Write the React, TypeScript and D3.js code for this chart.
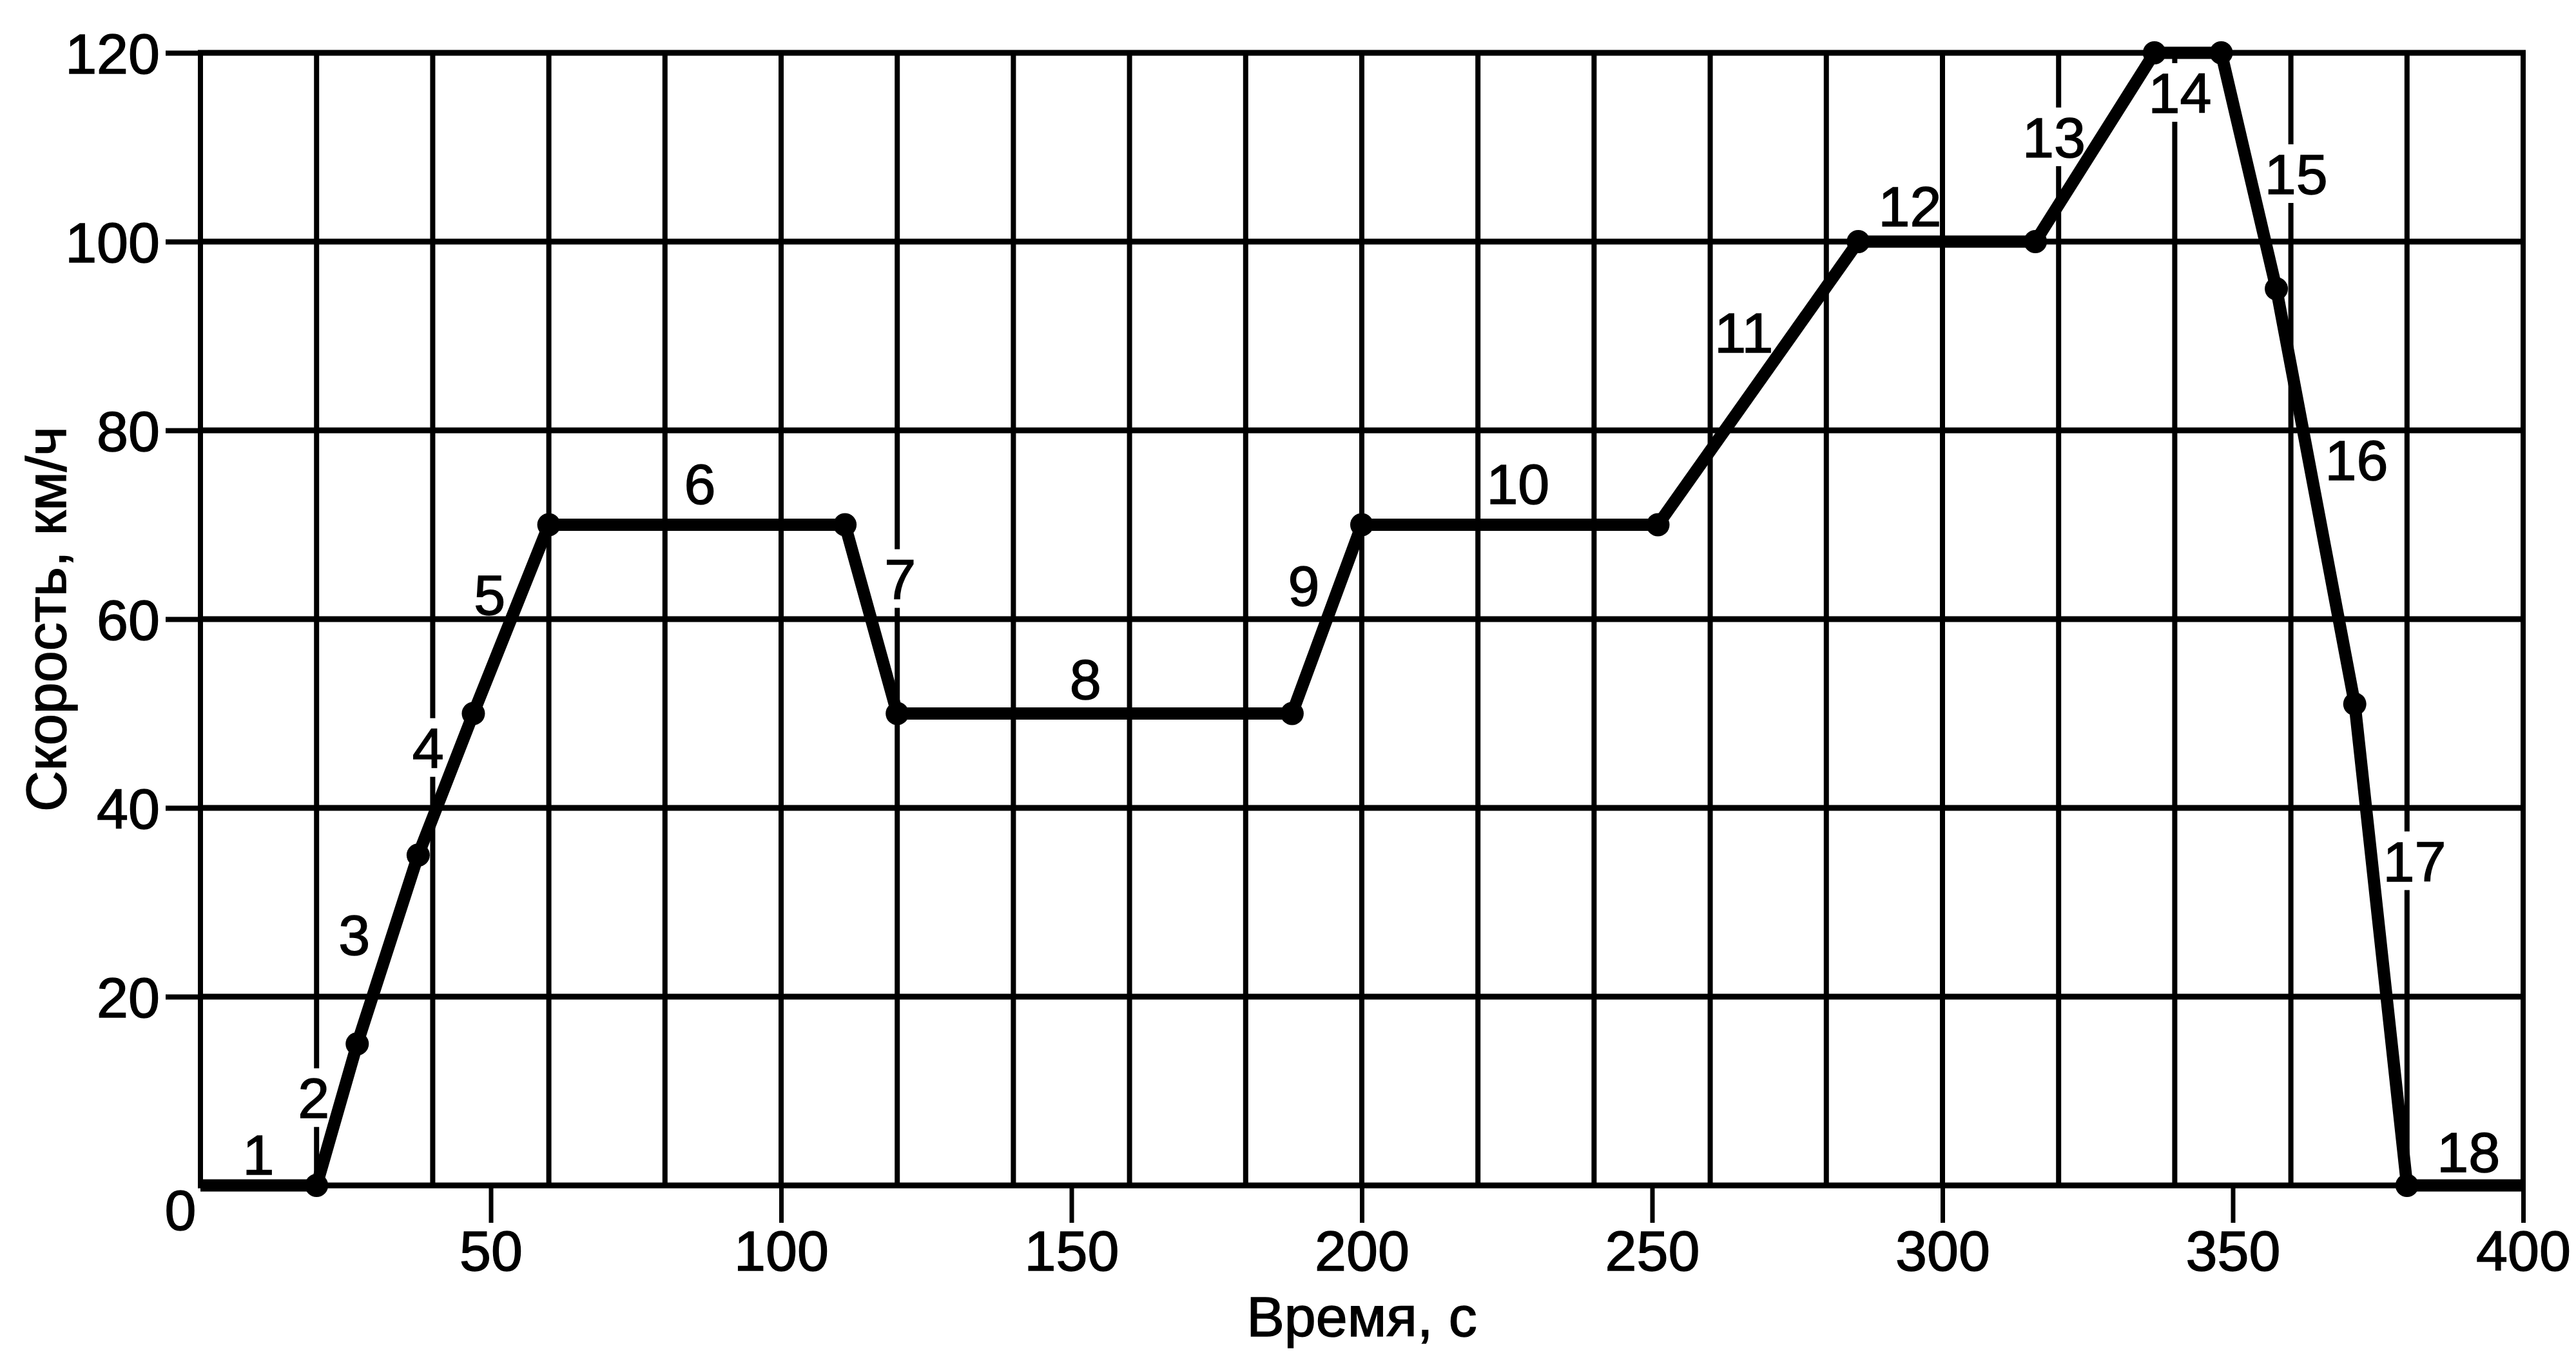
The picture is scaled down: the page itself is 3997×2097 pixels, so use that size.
import { useEffect, useRef } from 'react';
import * as d3 from 'd3';

// Speed profile: break points of the driving cycle
const timeS = [0, 20, 27, 37.5, 47, 60, 111, 120, 188, 200, 251, 285.5, 316, 336.5, 348, 357.5, 371, 380, 400];
const speedKmh = [0, 0, 15, 35, 50, 70, 70, 50, 50, 70, 70, 100, 100, 120, 120, 95, 51, 0, 0];

// Segment numbers and where they sit (in data units)
const segmentNames = ['1', '2', '3', '4', '5', '6', '7', '8', '9', '10', '11', '12', '13', '14', '15', '16', '17', '18'];
const labelTime = [10, 19.5, 26.5, 39.2, 49.8, 86, 120.5, 152.4, 190, 226.9, 265.8, 294.4, 319.2, 340.9, 360.9, 371.3, 381.3, 390.6];
const labelSpeed = [3.3, 9.3, 26.6, 46.4, 62.6, 74.4, 64.3, 53.7, 63.6, 74.4, 90.4, 103.8, 111.1, 115.8, 107.2, 76.9, 34.4, 3.6];

const xTicks = [50, 100, 150, 200, 250, 300, 350, 400];
const yTicks = [20, 40, 60, 80, 100, 120];

const xTitle = 'Время, с';
const yTitle = 'Скорость, км/ч';

export default function App() {
  const svgRef = useRef<SVGSVGElement>(null);

  useEffect(() => {
    if (!svgRef.current) return;
    document.body.style.margin = '0';

    const width = 3997;
    const height = 2097;
    const fs = 88;
    const font = '"Liberation Sans", Arial, sans-serif';

    const svg = d3.select(svgRef.current).attr('width', width).attr('height', height);
    svg.selectAll('*').remove();

    const x = d3.scaleLinear().domain([0, 400]).range([311, 3915]);
    const y = d3.scaleLinear().domain([0, 120]).range([1840, 82]);

    svg.append('rect').attr('width', width).attr('height', height).attr('fill', '#fff');

    // vertical grid every 20 s
    svg.append('g')
      .selectAll('line')
      .data(d3.range(0, 401, 20))
      .join('line')
      .attr('x1', d => x(d))
      .attr('x2', d => x(d))
      .attr('y1', y(120) - 4)
      .attr('y2', y(0) + 4)
      .attr('stroke', '#000')
      .attr('stroke-width', 8);

    // white boxes behind the segment numbers break the vertical grid
    svg.append('g')
      .selectAll('rect')
      .data(segmentNames)
      .join('rect')
      .attr('x', (d, i) => x(labelTime[i]) - (d.length * 0.5 * fs) / 2)
      .attr('y', (d, i) => y(labelSpeed[i]) - 0.358 * fs - 14)
      .attr('width', d => d.length * 0.5 * fs)
      .attr('height', 0.716 * fs + 28)
      .attr('fill', '#fff');

    // horizontal grid every 20 km/h
    svg.append('g')
      .selectAll('line')
      .data(d3.range(0, 121, 20))
      .join('line')
      .attr('x1', x(0) - 4)
      .attr('x2', x(400) + 4)
      .attr('y1', d => y(d))
      .attr('y2', d => y(d))
      .attr('stroke', '#000')
      .attr('stroke-width', 9);

    // axes (ticks and labels only; the grid draws the frame)
    const xAxis = svg.append('g')
      .attr('transform', `translate(0,${y(0)})`)
      .call(d3.axisBottom(x).tickValues(xTicks).tickSize(58).tickPadding(12).tickSizeOuter(0));
    xAxis.select('.domain').remove();
    xAxis.selectAll('line').attr('stroke', '#000').attr('stroke-width', 7);
    xAxis.selectAll('text')
      .attr('font-family', font)
      .attr('font-size', fs)
      .attr('fill', '#000')
      .attr('stroke', '#000')
      .attr('stroke-width', 1.5);

    const yAxis = svg.append('g')
      .attr('transform', `translate(${x(0)},0)`)
      .call(d3.axisLeft(y).tickValues(yTicks).tickSize(54).tickPadding(9).tickSizeOuter(0));
    yAxis.select('.domain').remove();
    yAxis.selectAll('line').attr('stroke', '#000').attr('stroke-width', 8);
    yAxis.selectAll('text')
      .attr('font-family', font)
      .attr('font-size', fs)
      .attr('dy', '0.358em')
      .attr('fill', '#000')
      .attr('stroke', '#000')
      .attr('stroke-width', 1.5);

    // shared origin label
    svg.append('text')
      .attr('x', 280)
      .attr('y', 1909)
      .attr('text-anchor', 'middle')
      .attr('font-family', font)
      .attr('font-size', fs)
      .attr('stroke', '#000')
      .attr('stroke-width', 1.5)
      .text('0');

    // speed profile
    const line = d3.line<number>()
      .x((d, i) => x(timeS[i]))
      .y(d => y(d));

    svg.append('path')
      .datum(speedKmh)
      .attr('d', line)
      .attr('fill', 'none')
      .attr('stroke', '#000')
      .attr('stroke-width', 19)
      .attr('stroke-linejoin', 'round');

    svg.append('g')
      .selectAll('circle')
      .data(speedKmh.slice(1, -1))
      .join('circle')
      .attr('cx', (d, i) => x(timeS[i + 1]))
      .attr('cy', d => y(d))
      .attr('r', 18)
      .attr('fill', '#000');

    // segment numbers
    svg.append('g')
      .selectAll('text')
      .data(segmentNames)
      .join('text')
      .attr('x', (d, i) => x(labelTime[i]))
      .attr('y', (d, i) => y(labelSpeed[i]) + 0.358 * fs)
      .attr('text-anchor', 'middle')
      .attr('font-family', font)
      .attr('font-size', fs)
      .attr('stroke', '#000')
      .attr('stroke-width', 1.5)
      .text(d => d);

    // axis titles
    svg.append('text')
      .attr('x', (x(0) + x(400)) / 2)
      .attr('y', 2074)
      .attr('text-anchor', 'middle')
      .attr('font-family', font)
      .attr('font-size', fs)
      .attr('stroke', '#000')
      .attr('stroke-width', 1.5)
      .text(xTitle);

    svg.append('text')
      .attr('transform', `translate(102,${(y(0) + y(120)) / 2}) rotate(-90)`)
      .attr('text-anchor', 'middle')
      .attr('font-family', font)
      .attr('font-size', fs)
      .attr('stroke', '#000')
      .attr('stroke-width', 1.5)
      .text(yTitle);
  }, []);

  return (
    <div>
      <svg ref={svgRef} style={{ display: 'block' }}></svg>
    </div>
  );
}
